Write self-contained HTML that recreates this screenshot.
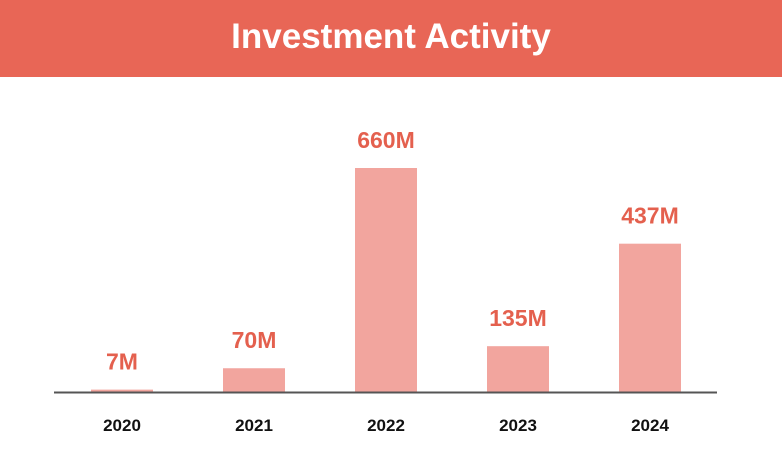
<!DOCTYPE html>
<html><head><meta charset="utf-8"><style>
body{margin:0;width:782px;height:462px;background:#fff;overflow:hidden;font-family:"Liberation Sans",Arial,sans-serif}
#hdr{position:absolute;left:0;top:0;width:782px;height:77px;background:#E86656;color:#fff;font-weight:bold;font-size:35px;text-align:center;line-height:74px}
</style></head><body>
<div id="hdr">Investment Activity</div>
<svg id="c" width="782" height="462" style="position:absolute;left:0;top:0"></svg>
<script>
const categories=["2020","2021","2022","2023","2024"];
const values=[7,70,660,135,437];
const valueLabels=["7M","70M","660M","135M","437M"];
const svg=document.getElementById('c');
const NS='http://www.w3.org/2000/svg';
const baseY=392, x0=122, step=132, bw=62, k=224/660;
const xPos=i=>x0+i*step;
const yScale=v=>baseY-v*k;
function mk(t,a){const e=document.createElementNS(NS,t);for(const n in a)e.setAttribute(n,a[n]);svg.appendChild(e);return e;}
categories.forEach((c,i)=>{
  const cx=xPos(i), top=yScale(values[i]);
  const r=mk('rect',{x:cx-bw/2,y:top,width:bw,height:baseY-top,fill:'#F2A59E'});
  
  
  const t=mk('text',{x:cx,y:top-20,'text-anchor':'middle','font-size':23,'font-weight':'bold',fill:'#E4604E','font-family':'Liberation Sans, Arial, sans-serif'});
  t.textContent=valueLabels[i];
  
  
  const l=mk('text',{x:cx,y:431,'text-anchor':'middle','font-size':17,'font-weight':'bold',fill:'#111','font-family':'Liberation Sans, Arial, sans-serif'});
  l.textContent=c;
  
  
});
const ax=mk('line',{x1:54,x2:717,y1:baseY+0.5,y2:baseY+0.5,stroke:'#555','stroke-width':2});


</script>
</body></html>
